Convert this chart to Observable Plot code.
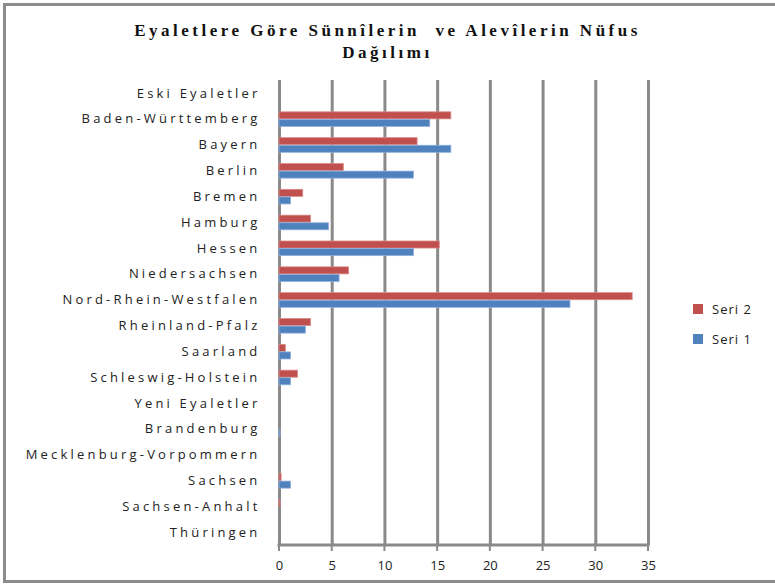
<!DOCTYPE html>
<html>
<head>
<meta charset="utf-8">
<script src="https://cdn.jsdelivr.net/npm/d3@7"></script>
<script src="https://cdn.jsdelivr.net/npm/@observablehq/plot@0.6"></script>
<style>
  html, body { margin: 0; padding: 0; background: #fff; }
  #wrap { position: relative; width: 775px; height: 588px; overflow: hidden; background: #fff; }
  #frame { position: absolute; left: 3px; top: 3px; width: 790px; height: 580px; border: 3px solid #8c8c8c; box-sizing: border-box; }
  #title { position: absolute; left: 0; top: 20px; width: 775px; text-align: center; font-family: "Liberation Serif", serif; font-weight: bold; font-size: 17px; letter-spacing: 3.5px; line-height: 22px; color: #111; }
  #legend { position: absolute; left: 693px; top: 294px; font-family: "Open Sans", "DejaVu Sans", sans-serif; font-size: 13px; color: #222; letter-spacing: 1px; }
  .li { height: 30px; display: flex; align-items: center; }
  .sw { width: 10px; height: 10px; margin-right: 9px; }
  #chart { position: absolute; left: 0; top: 0; }
</style>
</head>
<body>
<div id="wrap">
  <div id="frame"></div>
  <div id="chart"></div>
  <div id="title">Eyaletlere Göre Sünnîlerin&nbsp; ve Alevîlerin Nüfus<br>Dağılımı</div>
  <div id="legend"></div>
</div>
<script>
const categories = [
  "Eski Eyaletler", "Baden-Württemberg", "Bayern", "Berlin", "Bremen", "Hamburg",
  "Hessen", "Niedersachsen", "Nord-Rhein-Westfalen", "Rheinland-Pfalz", "Saarland",
  "Schleswig-Holstein", "Yeni Eyaletler", "Brandenburg", "Mecklenburg-Vorpommern",
  "Sachsen", "Sachsen-Anhalt", "Thüringen"
];
const seri1 = [0, 14.3, 16.3, 12.75, 1.1, 4.7, 12.75, 5.7, 27.6, 2.5, 1.1, 1.1, 0, 0.1, 0, 1.1, 0, 0];
const seri2 = [0, 16.3, 13.1, 6.1, 2.25, 3.0, 15.2, 6.6, 33.5, 3.0, 0.6, 1.75, 0, 0, 0, 0.2, 0.1, 0];
const xTicks = [0, 5, 10, 15, 20, 25, 30, 35];
const seriesNames = ["Seri 2", "Seri 1"];
const seriesColors = ["#C0504D", "#4F81BD"];

const d1 = categories.map((c, i) => ({cat: c, v: seri1[i]}));
const d2 = categories.map((c, i) => ({cat: c, v: seri2[i]}));

const chart = Plot.plot({
  width: 775,
  height: 588,
  marginTop: 80,
  marginBottom: 43,
  marginLeft: 279,
  marginRight: 127,
  style: {fontFamily: "'Open Sans', 'DejaVu Sans', sans-serif", fontSize: "13px", color: "#222", background: "transparent"},
  x: {domain: [0, 35], ticks: xTicks, label: null, tickSize: 0, tickPadding: 15},
  y: {domain: categories, padding: 0, round: false, label: null, tickSize: 0, tickPadding: 19},
  marks: [
    Plot.ruleX(xTicks, {stroke: "#8a8a8a", strokeWidth: 3}),
    Plot.barX(d2, {x: "v", y: "cat", fill: seriesColors[0], stroke: "#d98a88", strokeWidth: 0.8, insetTop: 6, insetBottom: 12.8}),
    Plot.barX(d1, {x: "v", y: "cat", fill: seriesColors[1], stroke: "#8eb0dc", strokeWidth: 0.8, insetTop: 13.6, insetBottom: 5.2})
  ]
});
document.getElementById("chart").appendChild(chart);

// bottom axis line and tick stubs placed with the plot's own x scale
const svg = d3.select(chart);
const xs = chart.scale("x");
const yBottom = 588 - 43;
svg.append("line").attr("x1", xs.apply(0) - 1.5).attr("x2", xs.apply(35) + 1.5)
  .attr("y1", yBottom).attr("y2", yBottom).attr("stroke", "#8a8a8a").attr("stroke-width", 3);
xTicks.forEach(t => {
  svg.append("line").attr("x1", xs.apply(t)).attr("x2", xs.apply(t))
    .attr("y1", yBottom).attr("y2", yBottom + 6).attr("stroke", "#8a8a8a").attr("stroke-width", 2);
});
svg.selectAll("g[aria-label='y-axis tick label'] text").style("letter-spacing", "3.2px");

const legend = document.getElementById("legend");
seriesNames.forEach((n, i) => {
  const row = document.createElement("div");
  row.className = "li";
  row.innerHTML = `<span class="sw" style="background:${seriesColors[i]}"></span><span>${n}</span>`;
  legend.appendChild(row);
});
</script>
</body>
</html>
